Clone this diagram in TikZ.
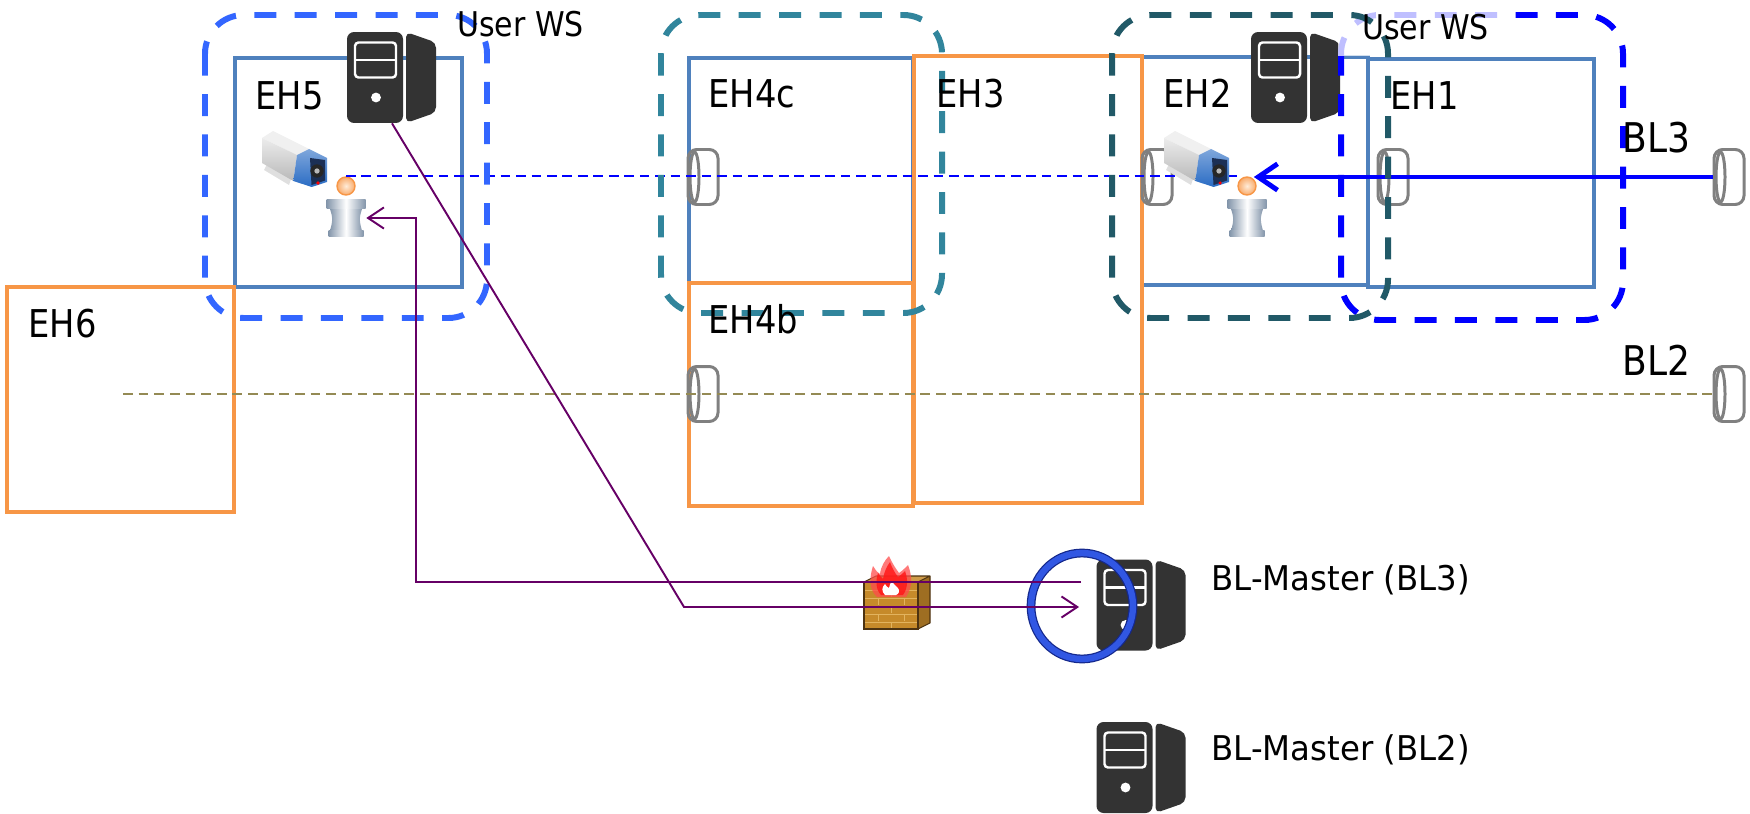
\documentclass[tikz,border=0pt]{standalone}
\usepackage{fontspec}
\setmainfont{DejaVu Sans}[FakeStretch=0.88]
\newfontfamily\masterfont{DejaVu Sans}[FakeStretch=0.95]
\usetikzlibrary{arrows.meta, shapes.geometric}
\definecolor{ehblue}{HTML}{4F81BD}
\definecolor{ehorange}{HTML}{F79646}
\definecolor{wsblue}{HTML}{3366FF}
\definecolor{wsteal}{HTML}{31859C}
\definecolor{wsdark}{HTML}{215967}
\definecolor{lensgray}{HTML}{808080}
\definecolor{bltwocol}{HTML}{948A54}
\definecolor{ctrlpurple}{HTML}{660066}
\definecolor{ringblue}{HTML}{3157E3}
\definecolor{ringdark}{HTML}{14288C}
\definecolor{srvgray}{HTML}{333333}
\definecolor{camblue}{HTML}{2A6CC4}
\definecolor{camface}{HTML}{1B2F55}
\definecolor{steel}{HTML}{8496AB}
\definecolor{brick}{HTML}{C68A2A}
\definecolor{mortar}{HTML}{E2B35E}
\definecolor{brickedge}{HTML}{4D3311}
\newcommand\ehfont{\fontsize{21.8}{26}\selectfont}
\newcommand\blfont{\fontsize{23.3}{28}\selectfont}
\newcommand\wsfont{\fontsize{19.4}{23}\selectfont}
\newcommand\mfont{\masterfont\fontsize{19.4}{23}\selectfont}

\tikzset{
  server/.style={minimum width=1.8cm, minimum height=1.82cm, inner sep=0pt,
    path picture={\begin{scope}[shift={(path picture bounding box.center)}]
      \fill[srvgray, rounded corners=4pt] (-45,-45.5) rectangle (11,45.5);
      \fill[srvgray, rounded corners=3pt] (14,-45.5) -- (44,-35) -- (44,35) -- (14,45.5) -- cycle;
      \draw[white, line width=1.4pt, rounded corners=2pt] (-37,-35) rectangle (4,0);
      \draw[white, line width=1.4pt] (-37,-17.5) -- (4,-17.5);
      \fill[white] (-16,20) circle (2.8pt);
    \end{scope}}},
  camera/.style={minimum width=1.5cm, minimum height=1.3cm, inner sep=0pt,
    path picture={\begin{scope}[shift={(path picture bounding box.center)}, scale=1.08]
      \fill[gray!25] (-26,6) -- (-2,21) -- (-4,27) -- (-29,12) -- cycle;
      \fill[gray!12] (-31,-20) -- (-20,-27) -- (16,-9) -- (4,-3) -- cycle;
      \shade[top color=gray!15, bottom color=gray!55] (-31,-20) -- (4,-3) -- (0.3,23) -- (-31,5) -- cycle;
      \shade[top color=camblue!60, bottom color=camblue] (4,-3) -- (16,-9) -- (34,0) -- (34,24) -- (18.7,29) -- (0.3,23) -- cycle;
      \fill[camface] (17,0) -- (32,2) -- (32,22.5) -- (18.5,27) -- cycle;
      \fill[black!85] (24,13) circle (3.8pt);
      \fill[gray!55] (24,13) circle (1.5pt);
      \fill[red] (25,25) circle (1pt);
    \end{scope}}},
  pedestal/.style={minimum width=0.8cm, minimum height=0.76cm, inner sep=0pt,
    path picture={\begin{scope}[shift={(path picture bounding box.center)}]
      \shade[left color=steel, right color=steel, middle color=white] (-16,-9) .. controls (-13,1) .. (-16,13) -- (16,13) .. controls (13,1) .. (16,-9) -- cycle;
      \shade[left color=steel, right color=steel, middle color=white] (-19.5,-18.5) rectangle (19.5,-9);
      \shade[left color=steel, right color=steel, middle color=white] (-17.5,12) rectangle (17.5,18.5);
    \end{scope}}},
  xtal/.style={circle, minimum size=0.36cm, inner sep=0pt, draw=ehorange, line width=0.8pt, inner color=orange!15, outer color=ehorange!80},
  lens/.style={draw=lensgray, line width=1.7pt, rounded corners=5pt, minimum width=0.6cm, minimum height=1.1cm, inner sep=0pt,
    path picture={\draw[lensgray, line width=1.7pt] ([xshift=0.13cm]path picture bounding box.west) ellipse (0.09cm and 0.5cm);}},
  firewall/.style={minimum width=1.4cm, minimum height=1.7cm, inner sep=0pt,
    path picture={\begin{scope}[shift={(path picture bounding box.center)}]
      \fill[brick!80!black] (21,-15) -- (33,-21) -- (33,26) -- (21,32) -- cycle;
      \fill[brick!85!white] (-33,-15) -- (-21,-21) -- (33,-21) -- (21,-15) -- cycle;
      \fill[brick] (-33,-15) rectangle (21,32);
      \foreach \yy/\xo in {-15/-19, -7/-6, 1/-19, 9/-6, 17/-19, 25/-6} {
        \draw[mortar, line width=0.5pt] (-33,\yy) -- (21,\yy);
        \draw[mortar, line width=0.5pt] (\xo,\yy) -- ++(0,7) (\xo+26,\yy) -- ++(0,7);
      }
      \draw[brickedge, line width=0.6pt] (-33,-15) rectangle (21,32);
      \draw[brickedge, line width=0.6pt, line join=round] (-33,-15) -- (-21,-21) -- (33,-21) -- (33,26) -- (21,32) (21,-15) -- (33,-21);
      \fill[red!60!pink, opacity=0.75] (-20,0) .. controls (-29,-8) and (-27,-22) .. (-24,-31) .. controls (-20,-25) .. (-17,-23) .. controls (-16,-31) and (-12,-37) .. (-8,-41) .. controls (-5,-34) and (-1,-28) .. (2,-24) .. controls (5,-26) .. (11,-32) .. controls (15,-22) and (16,-10) .. (9,0) -- cycle;
      \fill[red!90, opacity=0.85] (-16,-2) .. controls (-22,-8) and (-21,-18) .. (-19,-24) .. controls (-16,-20) .. (-14,-18) .. controls (-13,-25) and (-10,-31) .. (-7,-35) .. controls (-5,-29) and (-2,-24) .. (1,-20) .. controls (4,-22) .. (8,-26) .. controls (11,-18) and (11,-9) .. (6,-2) -- cycle;
      \fill[white] (-12,-2) .. controls (-16,-6) and (-15,-10) .. (-12,-13) .. controls (-10,-10) .. (-8,-9) .. controls (-8,-12) and (-6,-14) .. (-5,-16) .. controls (-3,-12) and (0,-10) .. (1,-9) .. controls (3,-6) and (2,-3) .. (-1,-2) -- cycle;
    \end{scope}}}
}

\begin{document}
\begin{tikzpicture}[x=0.02cm, y=-0.02cm,
  hutch/.style={draw=ehblue, line width=2.8pt},
  ohutch/.style={draw=ehorange, line width=2.8pt},
  wsbox/.style={line width=3.4pt, dash pattern=on 12.5pt off 10.5pt, rounded corners=22pt},
  beam/.style={blue, line width=1pt, dash pattern=on 5.5pt off 3.3pt},
  bltwo/.style={bltwocol, line width=1.1pt, dash pattern=on 5.6pt off 3.3pt},
  beamarrow/.style={blue, line width=2.8pt, -{Straight Barb[length=11pt, width=15pt]}},
  ctrl/.style={ctrlpurple, line width=1.1pt, -{Straight Barb[length=9pt, width=12pt]}},
  ring/.style={ellipse, draw=ringdark, double=ringblue, double distance=3.6pt, line width=0.7pt, minimum width=2.04cm, minimum height=2.12cm, inner sep=0pt},
  lbl/.style={anchor=base west, inner sep=0pt, font=\ehfont}]
\useasboundingbox (0,0) rectangle (1750,814);

% experimental hutches
\draw[hutch] (235,58) rectangle (462,287);
\draw[hutch] (689,58) rectangle (913,283);
\draw[hutch] (1142,57) rectangle (1368,285);
\draw[hutch] (1368,59) rectangle (1594,287);
\draw[ohutch] (7,287) rectangle (234,512);
\draw[ohutch] (689,283) rectangle (913,506);
\draw[ohutch] (914,56) rectangle (1142,503);

% beamlines
\coordinate (bl2in) at (123,394);
\node[lens] (w4c) at (703,177) {};
\node[lens] (w2) at (1157,177) {};
\node[lens] (w1) at (1393,177) {};
\node[lens] (w3end) at (1729,177) {};
\node[lens] (w4b) at (703,394) {};
\node[lens] (w2end) at (1729,394) {};
\draw[bltwo] (bl2in) -- (w2end.west);

\node[xtal] (x5) at (346,186) {};
\node[xtal] (x2) at (1247,186) {};
\draw[beam] (x5.north) -- (x5.north -| x2.west);
\draw[beamarrow] (w3end.west) -- (w3end.west -| x2.north east);

\node[camera] (c5) at (293,158) {};
\node[camera] (c2) at (1195,158) {};
\node[pedestal] (p5) at (346,218) {};
\node[pedestal] (p2) at (1247,218) {};

\node[server] (ws5) at (392,77.5) {};
\node[server] (ws2) at (1296,77.5) {};
\node[server] (m3) at (1141.5,605) {};
\node[server] (m2) at (1141.5,767.5) {};
\node[firewall] (fw) at (897,597) {};

% user workstation areas
\draw[wsbox, draw=wsblue] (205,15) rectangle (487,318);
\draw[wsbox, draw=wsteal] (661,15) rectangle (942,313);
\draw[wsbox, draw=blue] (1341,15) rectangle (1623,320);
\fill[white, opacity=0.75] (1338,0) rectangle (1515,56);
\draw[wsbox, draw=wsdark] (1112,15) rectangle (1388,318);

\node[lbl] (l5) at (255,110) {EH5};
\node[lbl] (l4c) at (708,108) {EH4c};
\node[lbl] (l3) at (936,108) {EH3};
\node[lbl] (l2) at (1163,108) {EH2};
\node[lbl] (l1) at (1390,110) {EH1};
\node[lbl] (l6) at (28,337) {EH6};
\node[lbl] (l4b) at (708,333) {EH4b};
\node[lbl, font=\blfont] (lb3) at (1622,153) {BL3};
\node[lbl, font=\blfont] (lb2) at (1622,375) {BL2};
\node[lbl, font=\wsfont] (u5) at (457,37) {User WS};
\node[lbl, font=\wsfont] (u2) at (1362,40) {User WS};
\node[lbl, font=\mfont] (n3) at (1211,590) {BL-Master (BL3)};
\node[lbl, font=\mfont] (n2) at (1211,760) {BL-Master (BL2)};

\node[ring] (focus) at (1082,606) {};

% control connections
\coordinate (in3) at (1081,582);
\coordinate (up) at (416,218);
\coordinate (knee) at (684,607);
\coordinate (out3) at (1079,607);
\draw[ctrl] (in3) -| (up) -- (p5.east);
\draw[ctrl] (ws5.south) -- (knee) -- (out3);
\end{tikzpicture}
\end{document}
